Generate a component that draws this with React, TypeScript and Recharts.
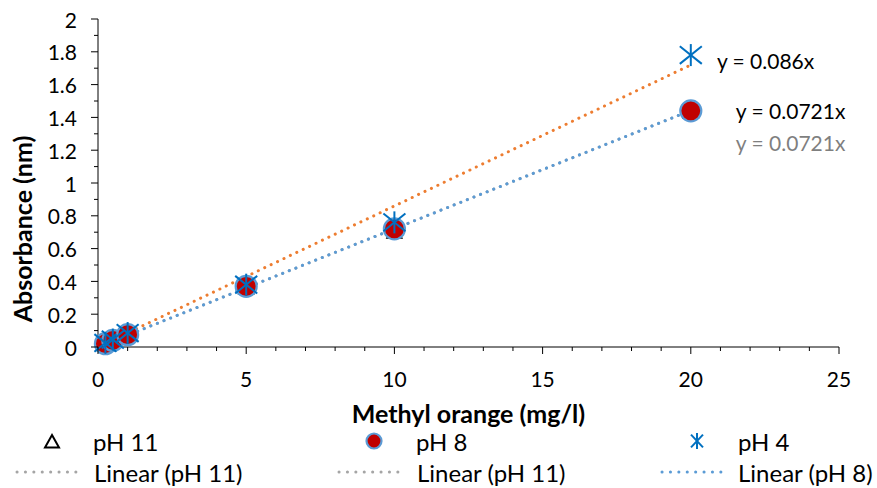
import React from 'react';
import { ComposedChart, Scatter, Line, XAxis, YAxis, Legend, ReferenceDot, Label } from 'recharts';

// ---- data ----
const concentrations = [0.25, 0.5, 1, 5, 10, 20];
const ph11Values = [0.015, 0.035, 0.07, 0.36, 0.7, 1.43];
const ph8Values = [0.02, 0.04, 0.075, 0.37, 0.72, 1.44];
const ph4Values = [0.025, 0.045, 0.085, 0.38, 0.76, 1.78];

const trendX = [0, 20];
const trendPh4 = [0, 1.72];
const trendPh8 = [0, 1.442];
const trendPh11 = [0, 1.442];

const xTicks = [0, 1, 2, 3, 4, 5, 6, 7, 8, 9, 10, 11, 12, 13, 14, 15, 16, 17, 18, 19, 20, 21, 22, 23, 24, 25];
const xMajorTicks = [0, 5, 10, 15, 20, 25];
const yTicks = [0, 0.1, 0.2, 0.3, 0.4, 0.5, 0.6, 0.7, 0.8, 0.9, 1, 1.1, 1.2, 1.3, 1.4, 1.5, 1.6, 1.7, 1.8, 1.9, 2];
const yMajorTicks = [0, 0.2, 0.4, 0.6, 0.8, 1, 1.2, 1.4, 1.6, 1.8, 2];

const trendLabels = ['y = 0.086x', 'y = 0.0721x', 'y = 0.0721x'];
const legendMarkerNames = ['pH 11', 'pH 8', 'pH 4'];
const legendTrendNames = ['Linear (pH 11)', 'Linear (pH 11)', 'Linear (pH 8)'];
const xTitle = 'Methyl orange (mg/l)';
const yTitle = 'Absorbance (nm)';

const pts = (vals: number[]) => concentrations.map((x, i) => ({ x, y: vals[i] }));
const trend = (vals: number[]) => trendX.map((x, i) => ({ x, y: vals[i] }));

const FONT = 'Lato, "DejaVu Sans", sans-serif';
const ORANGE = '#ED7D31';
const BLUE = '#5B9BD5';
const GREY = '#A5A5A5';
const RED = '#C00000';
const STAR = '#0070C0';

const Triangle = ({ cx, cy, s = 7 }: any) => (
  <path d={`M${cx},${cy - s} L${cx + s},${cy + s * 0.8} L${cx - s},${cy + s * 0.8} Z`} fill="none" stroke="#000" strokeWidth={2} />
);
const Circle = ({ cx, cy, r = 10 }: any) => (
  <circle cx={cx} cy={cy} r={r} fill={RED} stroke={BLUE} strokeWidth={2.2} />
);
const Star = ({ cx, cy, w = 10, h = 11 }: any) => (
  <g stroke={STAR} strokeWidth={2}>
    <line x1={cx} y1={cy - h} x2={cx} y2={cy + h} />
    <line x1={cx - w} y1={cy - h * 0.8} x2={cx + w} y2={cy + h * 0.8} />
    <line x1={cx - w} y1={cy + h * 0.8} x2={cx + w} y2={cy - h * 0.8} />
  </g>
);

const XTick = (props: any) => {
  const { x, y, payload } = props;
  const v = payload.value;
  const major = xMajorTicks.includes(v);
  return (
    <g>
      <line x1={x} x2={x} y1={y} y2={y + (major ? 7 : 4)} stroke="#000" strokeWidth={1} />
      {major && (
        <text x={x} y={y + 31} textAnchor="middle" dominantBaseline="central" fontFamily={FONT} fontSize={21} fill="#000">
          {v}
        </text>
      )}
    </g>
  );
};

const YTick = (props: any) => {
  const { x, y, payload } = props;
  const v = payload.value;
  const major = yMajorTicks.includes(v);
  return (
    <g>
      <line x1={x} x2={x - (major ? 7 : 4)} y1={y} y2={y} stroke="#000" strokeWidth={1} />
      {major && (
        <text x={x - 21} y={y} textAnchor="end" dominantBaseline="central" fontFamily={FONT} fontSize={21} fill="#000">
          {String(v)}
        </text>
      )}
    </g>
  );
};

const YTitle = (props: any) => {
  const vb = props.viewBox || { x: 0, y: 19, width: 98, height: 328 };
  const cx = vb.x + 22;
  const cy = vb.y + 210;
  return (
    <text x={cx} y={cy} transform={`rotate(-90 ${cx} ${cy})`} textAnchor="middle" dominantBaseline="central" fontFamily={FONT} fontWeight="bold" fontSize={25} fill="#000">
      {yTitle}
    </text>
  );
};

const XTitle = (props: any) => {
  const vb = props.viewBox || { x: 98, y: 347, width: 741, height: 77 };
  return (
    <text x={vb.x + vb.width / 2} y={vb.y + 66} textAnchor="middle" dominantBaseline="central" fontFamily={FONT} fontWeight="bold" fontSize={25} fill="#000">
      {xTitle}
    </text>
  );
};

const makeTrendLabel = (text: string, color: string) => (props: any) => {
  const vb = props.viewBox || { x: 0, y: 0 };
  return (
    <text x={vb.x} y={vb.y} textAnchor="start" dominantBaseline="central" fontFamily={FONT} fontSize={21} fill={color}>
      {text}
    </text>
  );
};

const DottedSample = ({ x1, x2, y, color }: any) => (
  <line x1={x1} x2={x2} y1={y} y2={y} stroke={color} strokeWidth={3} strokeDasharray="0.1 8.3" strokeLinecap="round" />
);

const LegendContent = () => {
  const r1 = 17;
  const r2 = 48;
  const t = { fontFamily: FONT, fontSize: 24, fill: '#000', dominantBaseline: 'central' as const };
  return (
    <svg width={877} height={64} style={{ display: 'block' }}>
      <Triangle cx={52} cy={r1 + 1} s={7} />
      <text x={93} y={r1} {...t}>{legendMarkerNames[0]}</text>
      <Circle cx={374} cy={r1} r={7.5} />
      <text x={416} y={r1} {...t}>{legendMarkerNames[1]}</text>
      <Star cx={697} cy={r1} w={6} h={8} />
      <text x={738} y={r1} {...t}>{legendMarkerNames[2]}</text>

      <DottedSample x1={17} x2={84} y={r2} color={GREY} />
      <text x={94} y={r2} {...t}>{legendTrendNames[0]}</text>
      <DottedSample x1={339} x2={406} y={r2} color={GREY} />
      <text x={417} y={r2} {...t}>{legendTrendNames[1]}</text>
      <DottedSample x1={662} x2={729} y={r2} color={BLUE} />
      <text x={738} y={r2} {...t}>{legendTrendNames[2]}</text>
    </svg>
  );
};

export default function App() {
  return (
    <div style={{ position: 'absolute', left: 0, top: 0, width: 877, height: 488, background: '#fff' }}>
      <ComposedChart width={877} height={488} margin={{ top: 19, right: 38, left: 0, bottom: 0 }}>
        <XAxis
          type="number"
          dataKey="x"
          domain={[0, 25]}
          ticks={xTicks}
          interval={0}
          tickSize={0}
          tickMargin={0}
          tickLine={false}
          tick={<XTick />}
          axisLine={{ stroke: '#000', strokeWidth: 1 }}
          height={77}
        >
          <Label content={<XTitle />} />
        </XAxis>
        <YAxis
          type="number"
          domain={[0, 2]}
          ticks={yTicks}
          interval={0}
          tickSize={0}
          tickMargin={0}
          tickLine={false}
          tick={<YTick />}
          axisLine={{ stroke: '#000', strokeWidth: 1 }}
          width={98}
        >
          <Label content={<YTitle />} />
        </YAxis>
        <Legend verticalAlign="bottom" height={64} content={<LegendContent />} wrapperStyle={{ left: 0, top: 424, width: 877, height: 64 }} />

        <Scatter name="pH 11" data={pts(ph11Values)} dataKey="y" isAnimationActive={false} shape={(p: any) => <Triangle cx={p.cx} cy={p.cy} s={7} />} />
        <Scatter name="pH 8" data={pts(ph8Values)} dataKey="y" isAnimationActive={false} shape={(p: any) => <Circle cx={p.cx} cy={p.cy} r={10.5} />} />
        <Scatter name="pH 4" data={pts(ph4Values)} dataKey="y" isAnimationActive={false} shape={(p: any) => <Star cx={p.cx} cy={p.cy} w={11} h={11} />} />

        <Line data={trend(trendPh11)} dataKey="y" stroke={GREY} strokeWidth={3} strokeDasharray="0.1 7" strokeLinecap="round" dot={false} activeDot={false} isAnimationActive={false} legendType="none" />
        <Line data={trend(trendPh8)} dataKey="y" stroke={BLUE} strokeWidth={3} strokeDasharray="0.1 7" strokeLinecap="round" dot={false} activeDot={false} isAnimationActive={false} legendType="none" />
        <Line data={trend(trendPh4)} dataKey="y" stroke={ORANGE} strokeWidth={3} strokeDasharray="0.1 7" strokeLinecap="round" dot={false} activeDot={false} isAnimationActive={false} legendType="none" />

        <ReferenceDot x={20.88} y={1.745} r={0} fill="none" stroke="none" label={makeTrendLabel(trendLabels[0], '#000')} />
        <ReferenceDot x={21.52} y={1.445} r={0} fill="none" stroke="none" label={makeTrendLabel(trendLabels[1], '#000')} />
        <ReferenceDot x={21.52} y={1.25} r={0} fill="none" stroke="none" label={makeTrendLabel(trendLabels[2], '#7F7F7F')} />
      </ComposedChart>
    </div>
  );
}
